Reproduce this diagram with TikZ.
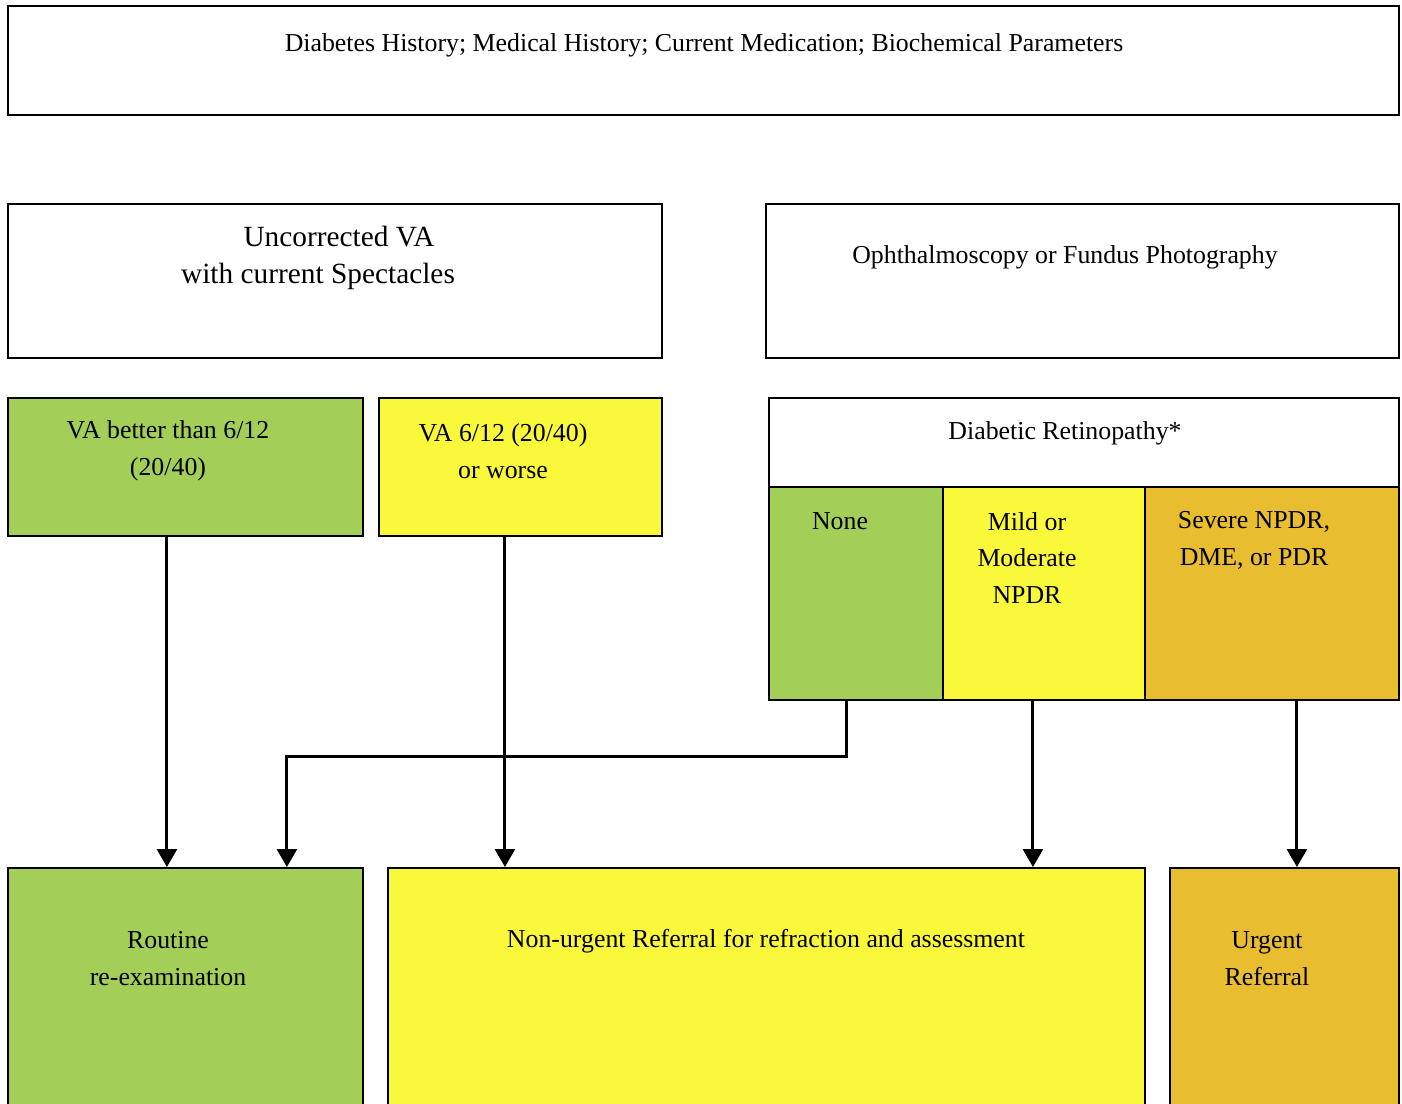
\documentclass[tikz,border=0pt]{standalone}
\usepackage{fontspec}
\setmainfont{Liberation Serif}
\usetikzlibrary{arrows.meta}

\definecolor{drgreen}{RGB}{163,206,88}
\definecolor{dryellow}{RGB}{250,248,58}
\definecolor{drorange}{RGB}{232,190,48}

\tikzset{
  box/.style={draw, line width=1.1pt, inner sep=0pt, anchor=north west},
  txt/.style={align=center, inner sep=0pt},
  arr/.style={line width=1.7pt, -{Triangle[length=0.36cm,width=0.4cm]}}
}

\begin{document}
\begin{tikzpicture}[x=0.02cm,y=-0.02cm]
\fontsize{14.7}{21}\selectfont
\useasboundingbox (0,0) rectangle (1402,1104);
\clip (0,0) rectangle (1402,1104);

% boxes
\node[box, minimum width=27.82cm, minimum height=2.18cm] (history) at (7,5) {};
\node[box, minimum width=13.08cm, minimum height=3.08cm] (uncorr) at (7,203) {};
\node[box, minimum width=12.66cm, minimum height=3.08cm] (ophth) at (765,203) {};
\node[box, fill=drgreen, minimum width=7.1cm, minimum height=2.76cm] (vagood) at (7,397) {};
\node[box, fill=dryellow, minimum width=5.66cm, minimum height=2.76cm] (vaworse) at (378,397) {};
\node[box, minimum width=12.6cm, minimum height=1.78cm] (dr) at (768,397) {};
\node[box, fill=drgreen, minimum width=3.48cm, minimum height=4.26cm] (none) at (768,486) {};
\node[box, fill=dryellow, minimum width=4.04cm, minimum height=4.26cm] (mild) at (942,486) {};
\node[box, fill=drorange, minimum width=5.08cm, minimum height=4.26cm] (severe) at (1144,486) {};
\node[box, fill=drgreen, minimum width=7.1cm, minimum height=5.2cm] (routine) at (7,867) {};
\node[box, fill=dryellow, minimum width=15.14cm, minimum height=5.2cm] (nonurgent) at (387,867) {};
\node[box, fill=drorange, minimum width=4.58cm, minimum height=5.2cm] (urgent) at (1169,867) {};

% texts
\node[txt] (t-history) at (704,45) {Diabetes History; Medical History; Current Medication; Biochemical Parameters};
\node[txt, font=\fontsize{16.7}{21}\selectfont] (t-uncorr) at (318,258) {\hspace*{0.84cm}Uncorrected VA\\with current Spectacles};
\node[txt] (t-ophth) at (1065,257) {Ophthalmoscopy or Fundus Photography};
\node[txt] (t-vagood) at (168,451) {VA better than 6/12\\(20/40)};
\node[txt] (t-vaworse) at (503,451) {VA 6/12 (20/40)\\or worse};
\node[txt] (t-dr) at (1065,433) {Diabetic Retinopathy*};
\node[txt] (t-none) at (840,521) {None};
\node[txt] (t-mild) at (1027,558) {Mild or\\Moderate\\NPDR};
\node[txt] (t-severe) at (1254,540) {Severe NPDR,\\DME, or PDR};
\node[txt] (t-routine) at (168,959) {Routine\\re-examination};
\node[txt] (t-nonurgent) at (766,941) {Non-urgent Referral for refraction and assessment};
\node[txt] (t-urgent) at (1267,959) {Urgent\\Referral};

% connectors
\coordinate (vagood-out) at ([xshift=-0.37cm]vagood.south);
\coordinate (vaworse-out) at ([xshift=-0.31cm]vaworse.south);
\coordinate (none-out) at ([xshift=-0.18cm]none.south);
\coordinate (mild-out) at ([xshift=-0.22cm]mild.south);
\coordinate (severe-out) at ([xshift=0.5cm]severe.south);
\coordinate (routine-in) at ([xshift=2.03cm]routine.north);
\draw[arr] (vagood-out) -- (vagood-out |- routine.north);
\draw[arr] (vaworse-out) -- (vaworse-out |- nonurgent.north);
\draw[arr] (none-out) -- ++(0,56) -| (routine-in);
\draw[arr] (mild-out) -- (mild-out |- nonurgent.north);
\draw[arr] (severe-out) -- (severe-out |- urgent.north);
\end{tikzpicture}
\end{document}
